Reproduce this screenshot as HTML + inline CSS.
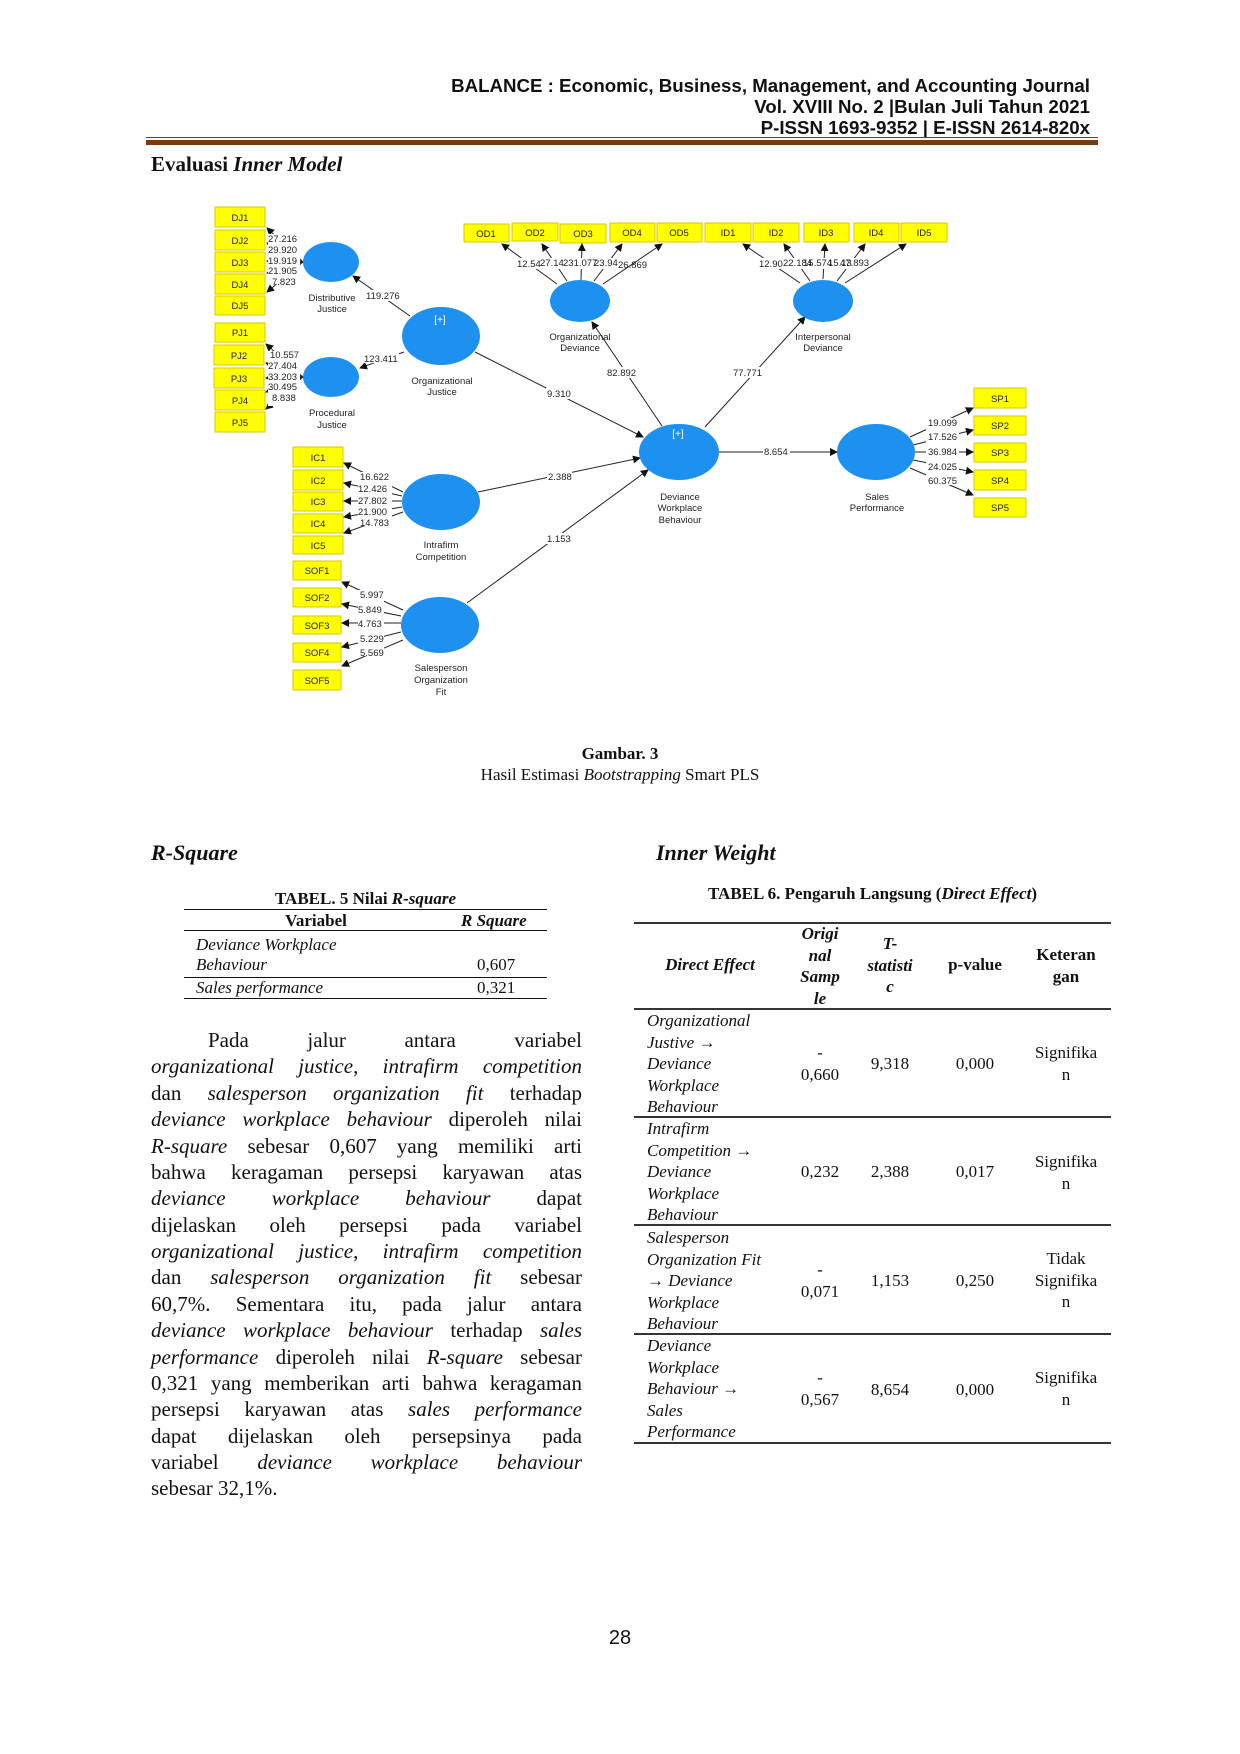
<!DOCTYPE html>
<html><head><meta charset="utf-8">
<style>
html,body{margin:0;padding:0;background:#fff;}
body{width:1240px;height:1754px;position:relative;overflow:hidden;font-family:"Liberation Serif",serif;color:#111;}
.a{position:absolute;white-space:nowrap;}
.hd{font-family:"Liberation Sans",sans-serif;font-weight:bold;font-size:18.7px;right:150px;text-align:right;transform-origin:right center;}
.pl{position:absolute;left:151px;width:431px;font-size:21px;line-height:26.4px;text-align:justify;text-align-last:justify;white-space:nowrap;}
.t6{position:absolute;font-size:17px;line-height:21.5px;}
.c{text-align:center;}
</style></head><body>
<div class="a hd" style="top:75px;">BALANCE : Economic, Business, Management, and Accounting Journal</div>
<div class="a hd" style="top:96px;">Vol. XVIII No. 2 |Bulan Juli Tahun 2021</div>
<div class="a hd" style="top:117px;">P-ISSN 1693-9352 | E-ISSN 2614-820x</div>
<div class="a" style="left:146px;top:137px;width:952px;height:1px;background:#7a3a0a;"></div>
<div class="a" style="left:146px;top:140px;width:952px;height:5px;background:#7a3a0a;"></div>
<div class="a" style="left:151px;top:152px;font-size:21px;font-weight:bold;">Evaluasi <i>Inner Model</i></div>

<svg class="a" style="left:0;top:0" width="1240" height="1754" viewBox="0 0 1240 1754" font-family="Liberation Sans, sans-serif">
<defs><marker id="ar" markerWidth="8" markerHeight="8" refX="7" refY="4" orient="auto" markerUnits="userSpaceOnUse"><path d="M0,0 L8,4 L0,8 z" fill="#111"/></marker></defs>
<g fill="#ffff00" stroke="#d8c800" stroke-width="1">
<rect x="215" y="207" width="50" height="20"/><rect x="215" y="230" width="50" height="20"/><rect x="215" y="252" width="50" height="20"/><rect x="215" y="274" width="50" height="20"/><rect x="215" y="296" width="50" height="19"/>
<rect x="215" y="323" width="50" height="19"/><rect x="214" y="345" width="50" height="20"/><rect x="214" y="368" width="50" height="20"/><rect x="215" y="390" width="50" height="20"/><rect x="215" y="412" width="50" height="20"/>
<rect x="293" y="447" width="50" height="20"/><rect x="293" y="470" width="50" height="20"/><rect x="293" y="492" width="50" height="19"/><rect x="293" y="514" width="50" height="19"/><rect x="293" y="536" width="50" height="18"/>
<rect x="293" y="561" width="48" height="19"/><rect x="293" y="588" width="48" height="19"/><rect x="293" y="616" width="48" height="18"/><rect x="293" y="643" width="48" height="19"/><rect x="293" y="670" width="48" height="20"/>
<rect x="974" y="388" width="52" height="20"/><rect x="974" y="416" width="52" height="19"/><rect x="974" y="443" width="52" height="19"/><rect x="974" y="470" width="52" height="20"/><rect x="974" y="498" width="52" height="19"/>
<rect x="464" y="224" width="45" height="18"/><rect x="512" y="223" width="46" height="18"/><rect x="560" y="224" width="46" height="19"/><rect x="610" y="223" width="45" height="19"/><rect x="657" y="223" width="45" height="19"/>
<rect x="705" y="223" width="46" height="19"/><rect x="753" y="223" width="46" height="19"/><rect x="804" y="223" width="45" height="19"/><rect x="854" y="223" width="45" height="19"/><rect x="901" y="223" width="46" height="19"/>
</g>
<g font-size="9.5" text-anchor="middle" fill="#222">
<text x="240" y="221">DJ1</text><text x="240" y="244">DJ2</text><text x="240" y="266">DJ3</text><text x="240" y="288">DJ4</text><text x="240" y="309">DJ5</text>
<text x="240" y="336">PJ1</text><text x="239" y="359">PJ2</text><text x="239" y="382">PJ3</text><text x="240" y="404">PJ4</text><text x="240" y="426">PJ5</text>
<text x="318" y="461">IC1</text><text x="318" y="484">IC2</text><text x="318" y="505">IC3</text><text x="318" y="527">IC4</text><text x="318" y="549">IC5</text>
<text x="317" y="574">SOF1</text><text x="317" y="601">SOF2</text><text x="317" y="629">SOF3</text><text x="317" y="656">SOF4</text><text x="317" y="684">SOF5</text>
<text x="1000" y="402">SP1</text><text x="1000" y="429">SP2</text><text x="1000" y="456">SP3</text><text x="1000" y="484">SP4</text><text x="1000" y="511">SP5</text>
<text x="486" y="237">OD1</text><text x="535" y="236">OD2</text><text x="583" y="237">OD3</text><text x="632" y="236">OD4</text><text x="679" y="236">OD5</text>
<text x="728" y="236">ID1</text><text x="776" y="236">ID2</text><text x="826" y="236">ID3</text><text x="876" y="236">ID4</text><text x="924" y="236">ID5</text>
</g>
<g stroke="#222" stroke-width="1" marker-end="url(#ar)" fill="none">
<line x1="303" y1="262" x2="267" y2="228"/><line x1="303" y1="262" x2="267" y2="243"/><line x1="303" y1="262" x2="267" y2="261"/><line x1="303" y1="262" x2="267" y2="273"/><line x1="303" y1="262" x2="267" y2="292"/>
<line x1="303" y1="377" x2="266" y2="344"/><line x1="303" y1="377" x2="266" y2="363"/><line x1="303" y1="377" x2="266" y2="378"/><line x1="303" y1="377" x2="266" y2="392"/><line x1="303" y1="377" x2="266" y2="409"/>
<line x1="403" y1="492" x2="344" y2="463"/><line x1="402" y1="496" x2="344" y2="483"/><line x1="402" y1="501" x2="344" y2="501"/><line x1="402" y1="507" x2="344" y2="517"/><line x1="403" y1="512" x2="344" y2="533"/>
<line x1="403" y1="610" x2="342" y2="582"/><line x1="401" y1="616" x2="342" y2="604"/><line x1="401" y1="623" x2="342" y2="623"/><line x1="401" y1="632" x2="342" y2="647"/><line x1="403" y1="640" x2="342" y2="666"/>
<line x1="910" y1="437" x2="973" y2="408"/><line x1="913" y1="445" x2="973" y2="430"/><line x1="915" y1="452" x2="973" y2="452"/><line x1="913" y1="460" x2="973" y2="472"/><line x1="910" y1="468" x2="973" y2="495"/>
<line x1="557" y1="284" x2="502" y2="244"/><line x1="567" y1="281" x2="542" y2="244"/><line x1="581" y1="280" x2="582" y2="244"/><line x1="594" y1="281" x2="622" y2="244"/><line x1="603" y1="284" x2="662" y2="244"/>
<line x1="800" y1="283" x2="743" y2="244"/><line x1="810" y1="281" x2="784" y2="244"/><line x1="823" y1="279" x2="825" y2="244"/><line x1="837" y1="281" x2="865" y2="244"/><line x1="845" y1="283" x2="906" y2="244"/>
<line x1="410" y1="316" x2="353" y2="276"/><line x1="404" y1="352" x2="360" y2="368"/>
<line x1="662" y1="426" x2="592" y2="322"/><line x1="705" y1="427" x2="805" y2="317"/>
<line x1="475" y1="352" x2="643" y2="437"/><line x1="478" y1="492" x2="640" y2="458"/><line x1="467" y1="603" x2="648" y2="470"/>
<line x1="719" y1="452" x2="837" y2="452"/>
</g>
<g fill="#1e90f0">
<ellipse cx="331" cy="262" rx="28" ry="20"/><ellipse cx="331" cy="377" rx="28" ry="20"/>
<ellipse cx="441" cy="336" rx="39" ry="29"/><ellipse cx="441" cy="502" rx="39" ry="28"/><ellipse cx="440" cy="625" rx="39" ry="28"/>
<ellipse cx="580" cy="301" rx="30" ry="21"/><ellipse cx="823" cy="301" rx="30" ry="21"/>
<ellipse cx="679" cy="452" rx="40" ry="28"/><ellipse cx="876" cy="452" rx="39" ry="28"/>
</g>
<g font-size="10" fill="#fff" text-anchor="middle"><text x="440" y="323">[+]</text><text x="678" y="437">[+]</text></g>
<g font-size="9.5" fill="#222" text-anchor="middle">
<text x="332" y="301">Distributive</text><text x="332" y="312">Justice</text>
<text x="332" y="416">Procedural</text><text x="332" y="428">Justice</text>
<text x="442" y="384">Organizational</text><text x="442" y="395">Justice</text>
<text x="441" y="548">Intrafirm</text><text x="441" y="560">Competition</text>
<text x="441" y="671">Salesperson</text><text x="441" y="683">Organization</text><text x="441" y="695">Fit</text>
<text x="580" y="340">Organizational</text><text x="580" y="351">Deviance</text>
<text x="823" y="340">Interpersonal</text><text x="823" y="351">Deviance</text>
<text x="680" y="500">Deviance</text><text x="680" y="511">Workplace</text><text x="680" y="523">Behaviour</text>
<text x="877" y="500">Sales</text><text x="877" y="511">Performance</text>
</g>
<g font-size="9.5" fill="#222">
<g><rect x="268" y="234" width="32" height="50" fill="#fff"/>
<text x="268" y="242">27.216</text><text x="268" y="253">29.920</text><text x="268" y="264">19.919</text><text x="268" y="274">21.905</text><text x="272" y="285">7.823</text></g>
<g><rect x="268" y="351" width="32" height="55" fill="#fff"/>
<text x="270" y="358">10.557</text><text x="268" y="369">27.404</text><text x="268" y="380">33.203</text><text x="268" y="390">30.495</text><text x="272" y="401">8.838</text></g>
<g><rect x="358" y="472" width="34" height="54" fill="#fff"/>
<text x="360" y="480">16.622</text><text x="358" y="492">12.426</text><text x="358" y="504">27.802</text><text x="358" y="515">21.900</text><text x="360" y="526">14.783</text></g>
<g><rect x="358" y="590" width="26" height="66" fill="#fff"/>
<text x="360" y="598">5.997</text><text x="358" y="613">5.849</text><text x="358" y="627">4.763</text><text x="360" y="642">5.229</text><text x="360" y="656">5.569</text></g>
<g><rect x="926" y="418" width="33" height="67" fill="#fff"/>
<text x="928" y="426">19.099</text><text x="928" y="440">17.526</text><text x="928" y="455">36.984</text><text x="928" y="470">24.025</text><text x="928" y="484">60.375</text></g>
<rect x="517" y="258" width="96" height="11" fill="#fff"/>
<text x="517" y="267">12.54</text><text x="540" y="266">27.14</text><text x="563" y="266">231.077</text><text x="594" y="266">23.94</text><text x="618" y="268">26.869</text>
<rect x="759" y="258" width="96" height="11" fill="#fff"/>
<text x="759" y="267">12.90</text><text x="783" y="266">22.184</text><text x="803" y="266">15.574</text><text x="828" y="266">15.13</text><text x="840" y="266">47.893</text>
<rect x="365" y="290" width="36" height="11" fill="#fff"/><text x="366" y="299">119.276</text>
<rect x="363" y="352" width="36" height="11" fill="#fff"/><text x="364" y="362">123.411</text>
<rect x="546" y="388" width="26" height="11" fill="#fff"/><text x="547" y="397">9.310</text>
<rect x="606" y="367" width="30" height="11" fill="#fff"/><text x="607" y="376">82.892</text>
<rect x="732" y="367" width="30" height="11" fill="#fff"/><text x="733" y="376">77.771</text>
<rect x="547" y="471" width="25" height="11" fill="#fff"/><text x="548" y="480">2.388</text>
<rect x="546" y="533" width="25" height="11" fill="#fff"/><text x="547" y="542">1.153</text>
<rect x="763" y="446" width="27" height="11" fill="#fff"/><text x="764" y="455">8.654</text>
</g>
</svg>

<div class="a c" style="left:0;width:1240px;top:744px;font-size:17px;font-weight:bold;">Gambar. 3</div>
<div class="a c" style="left:0;width:1240px;top:765px;font-size:17px;">Hasil Estimasi <i>Bootstrapping</i> Smart PLS</div>

<div class="a" style="left:151px;top:840px;font-size:22px;font-weight:bold;font-style:italic;">R-Square</div>
<div class="a" style="left:656px;top:840px;font-size:22px;font-weight:bold;font-style:italic;">Inner Weight</div>

<div class="a c" style="left:184px;width:363px;top:889px;font-size:17px;font-weight:bold;">TABEL. 5 Nilai <i>R-square</i></div>
<div class="a" style="left:184px;top:909px;width:363px;height:1px;background:#111;"></div>
<div class="a c" style="left:250px;width:132px;top:911px;font-size:17px;font-weight:bold;">Variabel</div>
<div class="a" style="left:461px;top:911px;font-size:17px;font-weight:bold;font-style:italic;">R Square</div>
<div class="a" style="left:184px;top:930px;width:363px;height:1px;background:#111;"></div>
<div class="a" style="left:196px;top:935px;font-size:17px;font-style:italic;">Deviance Workplace</div>
<div class="a" style="left:196px;top:955px;font-size:17px;font-style:italic;">Behaviour</div>
<div class="a" style="left:477px;top:955px;font-size:17px;">0,607</div>
<div class="a" style="left:184px;top:977px;width:363px;height:1px;background:#111;"></div>
<div class="a" style="left:196px;top:978px;font-size:17px;font-style:italic;">Sales performance</div>
<div class="a" style="left:477px;top:978px;font-size:17px;">0,321</div>
<div class="a" style="left:184px;top:998px;width:363px;height:1px;background:#111;"></div>

<div class="pl" style="top:1027px;"><span style="display:inline-block;width:57px"></span>Pada jalur antara variabel</div>
<div class="pl" style="top:1053px;"><i>organizational justice</i>, <i>intrafirm competition</i></div>
<div class="pl" style="top:1080px;">dan <i>salesperson organization fit</i> terhadap</div>
<div class="pl" style="top:1106px;"><i>deviance workplace behaviour</i> diperoleh nilai</div>
<div class="pl" style="top:1133px;"><i>R-square</i> sebesar 0,607 yang memiliki arti</div>
<div class="pl" style="top:1159px;">bahwa keragaman persepsi karyawan atas</div>
<div class="pl" style="top:1185px;"><i>deviance workplace behaviour</i> dapat</div>
<div class="pl" style="top:1212px;">dijelaskan oleh persepsi pada variabel</div>
<div class="pl" style="top:1238px;"><i>organizational justice</i>, <i>intrafirm competition</i></div>
<div class="pl" style="top:1264px;">dan <i>salesperson organization fit</i> sebesar</div>
<div class="pl" style="top:1291px;">60,7%. Sementara itu, pada jalur antara</div>
<div class="pl" style="top:1317px;"><i>deviance workplace behaviour</i> terhadap <i>sales</i></div>
<div class="pl" style="top:1344px;"><i>performance</i> diperoleh nilai <i>R-square</i> sebesar</div>
<div class="pl" style="top:1370px;">0,321 yang memberikan arti bahwa keragaman</div>
<div class="pl" style="top:1396px;">persepsi karyawan atas <i>sales performance</i></div>
<div class="pl" style="top:1423px;">dapat dijelaskan oleh persepsinya pada</div>
<div class="pl" style="top:1449px;">variabel <i>deviance workplace behaviour</i></div>
<div class="pl" style="top:1475px;text-align-last:left;">sebesar 32,1%.</div>

<div class="a c" style="left:634px;width:477px;top:884px;font-size:17px;font-weight:bold;">TABEL 6. Pengaruh Langsung (<i>Direct Effect</i>)</div>
<div class="a" style="left:634px;top:922px;width:477px;height:2px;background:#333;"></div>
<div class="t6 c" style="left:640px;width:140px;top:954px;font-weight:bold;font-style:italic;">Direct Effect</div>
<div class="t6 c" style="left:785px;width:70px;top:923px;font-weight:bold;font-style:italic;">Origi<br>nal<br>Samp<br>le</div>
<div class="t6 c" style="left:855px;width:70px;top:933px;font-weight:bold;font-style:italic;">T-<br>statisti<br>c</div>
<div class="t6 c" style="left:930px;width:90px;top:954px;font-weight:bold;">p-value</div>
<div class="t6 c" style="left:1020px;width:92px;top:944px;font-weight:bold;">Keteran<br>gan</div>
<div class="a" style="left:634px;top:1008px;width:477px;height:2px;background:#333;"></div>

<div class="t6" style="left:647px;top:1010px;font-style:italic;">Organizational<br>Justive →<br>Deviance<br>Workplace<br>Behaviour</div>
<div class="t6 c" style="left:785px;width:70px;top:1042px;">-<br>0,660</div>
<div class="t6 c" style="left:855px;width:70px;top:1053px;">9,318</div>
<div class="t6 c" style="left:930px;width:90px;top:1053px;">0,000</div>
<div class="t6 c" style="left:1020px;width:92px;top:1042px;">Signifika<br>n</div>
<div class="a" style="left:634px;top:1116px;width:477px;height:2px;background:#333;"></div>

<div class="t6" style="left:647px;top:1118px;font-style:italic;">Intrafirm<br>Competition →<br>Deviance<br>Workplace<br>Behaviour</div>
<div class="t6 c" style="left:785px;width:70px;top:1161px;">0,232</div>
<div class="t6 c" style="left:855px;width:70px;top:1161px;">2,388</div>
<div class="t6 c" style="left:930px;width:90px;top:1161px;">0,017</div>
<div class="t6 c" style="left:1020px;width:92px;top:1151px;">Signifika<br>n</div>
<div class="a" style="left:634px;top:1224px;width:477px;height:2px;background:#333;"></div>

<div class="t6" style="left:647px;top:1227px;font-style:italic;">Salesperson<br>Organization Fit<br>→ Deviance<br>Workplace<br>Behaviour</div>
<div class="t6 c" style="left:785px;width:70px;top:1259px;">-<br>0,071</div>
<div class="t6 c" style="left:855px;width:70px;top:1270px;">1,153</div>
<div class="t6 c" style="left:930px;width:90px;top:1270px;">0,250</div>
<div class="t6 c" style="left:1020px;width:92px;top:1248px;">Tidak<br>Signifika<br>n</div>
<div class="a" style="left:634px;top:1333px;width:477px;height:2px;background:#333;"></div>

<div class="t6" style="left:647px;top:1335px;font-style:italic;">Deviance<br>Workplace<br>Behaviour →<br>Sales<br>Performance</div>
<div class="t6 c" style="left:785px;width:70px;top:1367px;">-<br>0,567</div>
<div class="t6 c" style="left:855px;width:70px;top:1379px;">8,654</div>
<div class="t6 c" style="left:930px;width:90px;top:1379px;">0,000</div>
<div class="t6 c" style="left:1020px;width:92px;top:1367px;">Signifika<br>n</div>
<div class="a" style="left:634px;top:1442px;width:477px;height:2px;background:#333;"></div>

<div class="a c" style="left:0;width:1240px;top:1627px;font-family:'Liberation Sans',sans-serif;font-size:20px;">28</div>
</body></html>
